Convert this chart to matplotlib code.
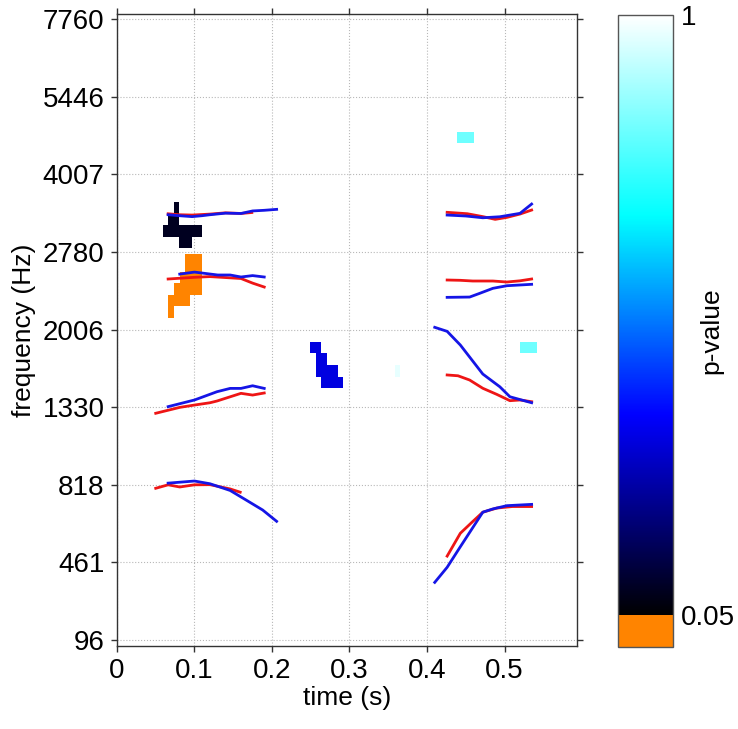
import numpy as np
import matplotlib
matplotlib.use('Agg')
import matplotlib.pyplot as plt
from matplotlib.colors import LinearSegmentedColormap, Normalize
from matplotlib.cm import ScalarMappable

plt.rcParams['font.family'] = ['Liberation Sans', 'DejaVu Sans']

# frequency axis ticks (Hz), evenly spaced on the plot
freq_ticks = [96, 461, 818, 1330, 2006, 2780, 4007, 5446, 7760]
time_ticks = [0, 0.1, 0.2, 0.3, 0.4, 0.5]

# formant tracks, first segment (about 0.05 - 0.21 s)
f1_blue_t = [0.066, 0.1, 0.12, 0.146, 0.168, 0.188, 0.206]
f1_blue_hz = [829, 843, 825, 792, 745, 702, 650]
f1_red_t = [0.05, 0.066, 0.081, 0.1, 0.12, 0.146, 0.159]
f1_red_hz = [802, 818, 808, 818, 819, 799, 784]

f2_blue_t = [0.066, 0.1, 0.129, 0.146, 0.16, 0.175, 0.19]
f2_blue_hz = [1335, 1393, 1465, 1494, 1494, 1517, 1494]
f2_red_t = [0.05, 0.081, 0.1, 0.12, 0.129, 0.16, 0.175, 0.19]
f2_red_hz = [1290, 1329, 1349, 1369, 1384, 1451, 1436, 1454]

f3_blue_t = [0.081, 0.1, 0.13, 0.146, 0.16, 0.175, 0.19]
f3_blue_hz = [2560, 2580, 2551, 2551, 2531, 2545, 2531]
f3_red_t = [0.066, 0.1, 0.12, 0.16, 0.175, 0.19]
f3_red_hz = [2511, 2528, 2535, 2516, 2470, 2431]

f4_blue_t = [0.066, 0.08, 0.097, 0.11, 0.12, 0.14, 0.16, 0.175, 0.19, 0.206]
f4_blue_hz = [3370, 3355, 3340, 3355, 3370, 3395, 3390, 3430, 3440, 3455]
f4_red_t = [0.066, 0.08, 0.097, 0.12, 0.14, 0.16, 0.174]
f4_red_hz = [3385, 3370, 3365, 3380, 3400, 3390, 3405]

# formant tracks, second segment (about 0.41 - 0.535 s)
f1r_blue_t = [0.41, 0.426, 0.443, 0.472, 0.485, 0.503, 0.535]
f1r_blue_hz = [367, 438, 533, 692, 707, 722, 728]
f1r_red_t = [0.426, 0.443, 0.459, 0.472, 0.49, 0.51, 0.535]
f1r_red_hz = [490, 595, 649, 692, 711, 718, 718]

f2r_blue_t = [0.41, 0.426, 0.443, 0.472, 0.494, 0.507, 0.535]
f2r_blue_hz = [2029, 1991, 1872, 1619, 1508, 1421, 1369]
f2r_red_t = [0.426, 0.44, 0.455, 0.472, 0.49, 0.507, 0.52, 0.535]
f2r_red_hz = [1611, 1604, 1567, 1495, 1442, 1387, 1393, 1378]

f3r_blue_t = [0.426, 0.455, 0.468, 0.485, 0.503, 0.535]
f3r_blue_hz = [2328, 2331, 2368, 2418, 2444, 2458]
f3r_red_t = [0.426, 0.443, 0.459, 0.485, 0.503, 0.52, 0.535]
f3r_red_hz = [2501, 2498, 2491, 2491, 2481, 2493, 2511]

f4r_blue_t = [0.426, 0.45, 0.472, 0.494, 0.52, 0.535]
f4r_blue_hz = [3365, 3350, 3322, 3338, 3392, 3539]
f4r_red_t = [0.426, 0.452, 0.472, 0.488, 0.503, 0.52, 0.535]
f4r_red_hz = [3408, 3386, 3340, 3297, 3328, 3381, 3444]

# p-value cells: time start, time end, freq low, freq high, p
cell_t0 = [0.0735, 0.066, 0.059, 0.0804,
           0.0877, 0.0813, 0.0735, 0.0735, 0.0662,
           0.249, 0.2565, 0.2565, 0.263,
           0.439, 0.52, 0.359]
cell_t1 = [0.0804, 0.0804, 0.11, 0.0963,
           0.1093, 0.1093, 0.1093, 0.0942, 0.0735,
           0.263, 0.2705, 0.2855, 0.292,
           0.461, 0.542, 0.365]
cell_lo = [3397, 3214, 3025, 2839,
           2583, 2468, 2351, 2241, 2118,
           1800, 1698, 1596, 1495,
           4597, 1800, 1596]
cell_hi = [3575, 3397, 3214, 3025,
           2760, 2583, 2468, 2351, 2351,
           1895, 1800, 1698, 1596,
           4798, 1895, 1698]
cell_p = [0.09, 0.09, 0.09, 0.09,
          0.02, 0.02, 0.02, 0.02, 0.02,
          0.33, 0.33, 0.33, 0.33,
          0.82, 0.82, 0.97]


def hz_to_pos(f):
    f = np.asarray(f, dtype=float)
    idx = np.arange(len(freq_ticks))
    pos = np.interp(f, freq_ticks, idx)
    pos = np.where(f < freq_ticks[0],
                   (f - freq_ticks[0]) / (freq_ticks[1] - freq_ticks[0]), pos)
    pos = np.where(f > freq_ticks[-1],
                   idx[-1] + (f - freq_ticks[-1]) / (freq_ticks[-1] - freq_ticks[-2]), pos)
    return pos


def pos_to_hz(p):
    p = np.asarray(p, dtype=float)
    idx = np.arange(len(freq_ticks))
    f = np.interp(p, idx, freq_ticks)
    f = np.where(p < 0, freq_ticks[0] + p * (freq_ticks[1] - freq_ticks[0]), f)
    f = np.where(p > idx[-1],
                 freq_ticks[-1] + (p - idx[-1]) * (freq_ticks[-1] - freq_ticks[-2]), f)
    return f


cmap = LinearSegmentedColormap.from_list('pval', [
    (0.0, '#ff8400'), (0.05, '#ff8400'), (0.05, '#000000'),
    (0.367, '#0000ff'), (0.683, '#00ffff'), (1.0, '#ffffff')], N=512)
norm = Normalize(0, 1)

fig = plt.figure(figsize=(7.38, 7.29), dpi=100)
ax = fig.add_axes([0.1585, 0.1139, 0.6233, 0.8669])
ax.set_yscale('function', functions=(hz_to_pos, pos_to_hz))

for t0, t1, lo, hi, p in zip(cell_t0, cell_t1, cell_lo, cell_hi, cell_p):
    ax.bar(t0, hi - lo, width=t1 - t0, bottom=lo, align='edge',
           color=cmap(norm(p)), linewidth=0, zorder=2)

lw = 2.0
for t, f in [(f1_red_t, f1_red_hz), (f2_red_t, f2_red_hz), (f3_red_t, f3_red_hz),
             (f4_red_t, f4_red_hz), (f1r_red_t, f1r_red_hz), (f2r_red_t, f2r_red_hz),
             (f3r_red_t, f3r_red_hz), (f4r_red_t, f4r_red_hz)]:
    ax.plot(t, f, color='#ee1515', lw=lw, zorder=3)
for t, f in [(f1_blue_t, f1_blue_hz), (f2_blue_t, f2_blue_hz), (f3_blue_t, f3_blue_hz),
             (f4_blue_t, f4_blue_hz), (f1r_blue_t, f1r_blue_hz), (f2r_blue_t, f2r_blue_hz),
             (f3r_blue_t, f3r_blue_hz), (f4r_blue_t, f4r_blue_hz)]:
    ax.plot(t, f, color='#1515e6', lw=lw, zorder=4)

ax.set_xlim(0, 0.5935)
ax.set_ylim(pos_to_hz(-0.077), pos_to_hz(8.068))
ax.set_xticks(time_ticks)
ax.set_xticklabels(['0', '0.1', '0.2', '0.3', '0.4', '0.5'])
ax.set_yticks(freq_ticks)
ax.set_yticklabels([str(f) for f in freq_ticks])
ax.minorticks_off()
ax.grid(True, color='#b8b8b8', linestyle=':', linewidth=0.8, zorder=0)
ax.set_axisbelow(True)
ax.tick_params(direction='out', top=True, right=True, length=4, width=1,
               labelsize=20, pad=5, color='#333333')
for s in ax.spines.values():
    s.set_color('#333333')
    s.set_linewidth(1)
ax.set_xlabel('time (s)', fontsize=19, labelpad=1)
ax.set_ylabel('frequency (Hz)', fontsize=19, labelpad=5)

cax = fig.add_axes([0.8374, 0.1125, 0.0745, 0.867])
cb = fig.colorbar(ScalarMappable(norm=norm, cmap=cmap), cax=cax, ticks=[0.05, 1])
cb.ax.set_yticklabels(['0.05', '1'])
cb.ax.tick_params(length=0, labelsize=20, pad=6)
cb.outline.set_edgecolor('#555555')
cb.outline.set_linewidth(1)
cb.ax.text(1.69, 0.5, 'p-value', rotation=90, transform=cb.ax.transAxes,
           ha='center', va='center', fontsize=19)

fig.savefig('out.png', dpi=100)
